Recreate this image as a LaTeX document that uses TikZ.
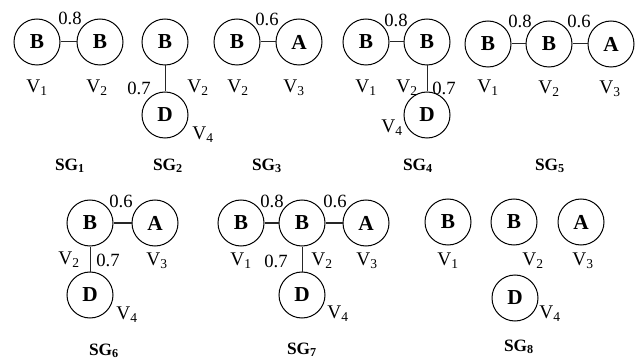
\documentclass[tikz,border=0pt]{standalone}
\usepackage{fontspec}
\setmainfont{Liberation Serif}
\newcommand{\Vs}[1]{V\textsubscript{#1}}
\newcommand{\SGs}[1]{SG\textsubscript{#1}}
\begin{document}
\begin{tikzpicture}[x=0.75pt,y=-0.75pt,
  vtx/.style={circle, draw, line width=0.75pt, minimum size=34.5pt, inner sep=0pt, font=\fontsize{16}{18}\selectfont\bfseries},
  lbl/.style={inner sep=0pt, font=\fontsize{14.5}{16}\selectfont},
  wt/.style={inner sep=0pt, font=\fontsize{14}{16}\selectfont},
  sg/.style={inner sep=0pt, font=\fontsize{13}{15}\selectfont\bfseries},
  edge/.style={line width=0.75pt, draw=black!85}]
\useasboundingbox (0,0) rectangle (640,360);
% SG1
\node[vtx] (a1) at (37,42) {B};
\node[vtx] (a2) at (100,42) {B};
\draw[edge] (a1) -- (a2);
\node[wt] (a1w) at (70,18) {0.8};
\node[lbl] (a1v1) at (37,88) {\Vs{1}};
\node[lbl] (a1v2) at (97,88) {\Vs{2}};
\node[sg] (sg1) at (70,166) {\SGs{1}};
% SG2
\node[vtx] (b2) at (165,42) {B};
\node[vtx] (b4) at (165,115) {D};
\draw[edge] (b2) -- (b4);
\node[wt] (b2w) at (139,88) {0.7};
\node[lbl] (b2v2) at (198,88) {\Vs{2}};
\node[lbl] (b2v4) at (203,135) {\Vs{4}};
\node[sg] (sg2) at (168,166) {\SGs{2}};
% SG3
\node[vtx] (c2) at (237,42) {B};
\node[vtx] (c3) at (299,42) {A};
\draw[edge] (c2) -- (c3);
\node[wt] (c2w) at (267,19) {0.6};
\node[lbl] (c3v2) at (238,88) {\Vs{2}};
\node[lbl] (c3v3) at (294,88) {\Vs{3}};
\node[sg] (sg3) at (267,166) {\SGs{3}};
% SG4
\node[vtx] (d1) at (366,42) {B};
\node[vtx] (d2) at (427,42) {B};
\node[vtx] (d4) at (427,115) {D};
\draw[edge] (d1) -- (d2);
\draw[edge] (d2) -- (d4);
\node[wt] (d1w) at (396,20) {0.8};
\node[wt] (d2w) at (444,88) {0.7};
\node[lbl] (d4v1) at (366,88) {\Vs{1}};
\node[lbl] (d4v2) at (407,88) {\Vs{2}};
\node[lbl] (d4v4) at (392,128) {\Vs{4}};
\node[sg] (sg4) at (418,166) {\SGs{4}};
% SG5
\node[vtx] (e1) at (488,44) {B};
\node[vtx] (e2) at (549,44) {B};
\node[vtx] (e3) at (611,44) {A};
\draw[edge] (e1) -- (e2);
\draw[edge] (e2) -- (e3);
\node[wt] (e1w) at (520,21) {0.8};
\node[wt] (e2w) at (579,21) {0.6};
\node[lbl] (e5v1) at (488,88) {\Vs{1}};
\node[lbl] (e5v2) at (549,89) {\Vs{2}};
\node[lbl] (e5v3) at (610,89) {\Vs{3}};
\node[sg] (sg5) at (550,166) {\SGs{5}};
% SG6
\node[vtx] (f2) at (90,223) {B};
\node[vtx] (f3) at (155,223) {A};
\node[vtx] (f4) at (90,295) {D};
\draw[edge] (f2) -- (f3);
\draw[edge] (f2) -- (f4);
\node[wt] (f2w) at (121,201) {0.6};
\node[wt] (f4w) at (108,260) {0.7};
\node[lbl] (f6v2) at (69,260) {\Vs{2}};
\node[lbl] (f6v3) at (157,261) {\Vs{3}};
\node[lbl] (f6v4) at (127,315) {\Vs{4}};
\node[sg] (sg6) at (104,351) {\SGs{6}};
% SG7
\node[vtx] (g1) at (241,223) {B};
\node[vtx] (g2) at (302,223) {B};
\node[vtx] (g3) at (366,223) {A};
\node[vtx] (g4) at (302,295) {D};
\draw[edge] (g1) -- (g2);
\draw[edge] (g2) -- (g3);
\draw[edge] (g2) -- (g4);
\node[wt] (g1w) at (272,201) {0.8};
\node[wt] (g2w) at (335,201) {0.6};
\node[wt] (g4w) at (276,261) {0.7};
\node[lbl] (g7v1) at (241,261) {\Vs{1}};
\node[lbl] (g7v2) at (322,261) {\Vs{2}};
\node[lbl] (g7v3) at (367,261) {\Vs{3}};
\node[lbl] (g7v4) at (338,314) {\Vs{4}};
\node[sg] (sg7) at (302,350) {\SGs{7}};
% SG8
\node[vtx] (h1) at (448,222) {B};
\node[vtx] (h2) at (514,222) {B};
\node[vtx] (h3) at (581,222) {A};
\node[vtx] (h4) at (515,298) {D};
\node[lbl] (h8v1) at (448,261) {\Vs{1}};
\node[lbl] (h8v2) at (533,261) {\Vs{2}};
\node[lbl] (h8v3) at (583,261) {\Vs{3}};
\node[lbl] (h8v4) at (550,314) {\Vs{4}};
\node[sg] (sg8) at (519,347) {\SGs{8}};
\end{tikzpicture}
\end{document}
